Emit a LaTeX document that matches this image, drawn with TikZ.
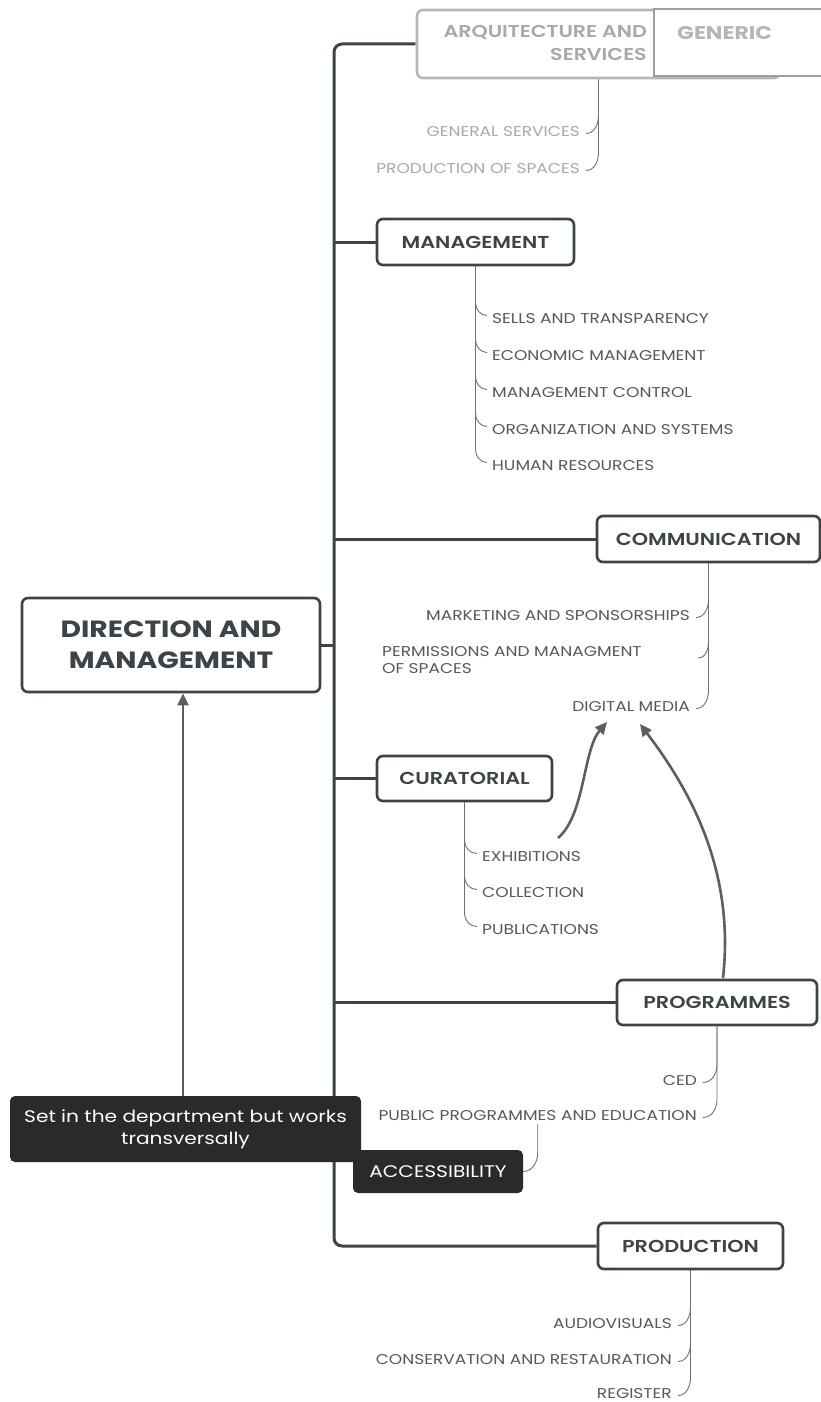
\documentclass[tikz,border=0pt]{standalone}
\usepackage{fontspec}
\setmainfont{Poppins}[FakeStretch=1.2]
\newfontfamily\semib{Poppins SemiBold}[FakeStretch=1.2]
\usetikzlibrary{arrows.meta,calc}
\definecolor{dk}{HTML}{3E4348}
\definecolor{itc}{HTML}{55595D}
\definecolor{lg}{HTML}{A9A9A9}
\definecolor{notec}{HTML}{2A2A2A}
\definecolor{subc}{HTML}{6E7276}
\pgfdeclarelayer{bg}
\pgfsetlayers{bg,main}
\begin{document}
\begin{tikzpicture}[x=1pt,y=-1pt,
  box/.style={draw=dk,line width=2.6pt,rounded corners=6pt,fill=white,text=dk,font=\semib\fontsize{17.3}{20}\selectfont,inner sep=0pt},
  item/.style={text=itc,font=\fontsize{14.2}{17}\selectfont,inner sep=0pt,yshift=-1.5pt},
  lgitem/.style={item,text=lg},
  trunk/.style={draw=dk,line width=3pt},
  sub/.style={draw=subc,line width=0.9pt},
  arr/.style={draw=dk!85,line width=2.6pt,-{Triangle[length=12pt,width=11pt]}},
  darkbox/.style={fill=notec,rounded corners=5pt,text=white,inner sep=0pt,font=\fontsize{16.8}{22}\selectfont,align=center},
  genbox/.style={draw=gray!75,line width=1.6pt,fill=white,inner sep=0pt}]
\useasboundingbox (0,0) rectangle (821,1402);
\coordinate (tr) at (334,645);
% boxes
\node[box,minimum width=298pt,minimum height=94pt,align=center,font=\bfseries\fontsize{23.5}{31}\selectfont] (root) at (171,645) {DIRECTION AND\\MANAGEMENT};
\node[box,draw=lg!85,minimum width=363pt,minimum height=68pt] (arq) at (598.5,44) {};
\node[anchor=east,align=right,text=lg,inner sep=0pt,font=\semib\fontsize{17.2}{23}\selectfont] (arqt) at (647,43) {ARQUITECTURE AND\\SERVICES};
\node[genbox,minimum width=176pt,minimum height=67pt] (gen) at (742,42.5) {};
\node[anchor=west,text=lg!85,inner sep=0pt,font=\bfseries\fontsize{18.4}{20}\selectfont] (gent) at (677,33) {GENERIC};
\node[box,minimum width=197pt,minimum height=46pt] (mgmt) at (475.5,242) {MANAGEMENT};
\node[box,minimum width=223pt,minimum height=46pt] (comm) at (708.5,539) {COMMUNICATION};
\node[box,minimum width=175pt,minimum height=45pt] (cur) at (464.5,778.5) {CURATORIAL};
\node[box,minimum width=200pt,minimum height=45pt] (prog) at (717,1002.5) {PROGRAMMES};
\node[box,minimum width=185pt,minimum height=46pt] (prod) at (690.5,1246) {PRODUCTION};
\node[darkbox,minimum width=351pt,minimum height=66pt] (note) at (185.5,1129) {Set in the department but works\\transversally};
\node[darkbox,minimum width=170pt,minimum height=43pt] (acc) at (438,1171.5) {ACCESSIBILITY};
% items
\node[lgitem,anchor=east] (gs) at (580,130) {GENERAL SERVICES};
\node[lgitem,anchor=east] (ps) at (580,167) {PRODUCTION OF SPACES};
\node[item,anchor=west] (m1) at (492,317) {SELLS AND TRANSPARENCY};
\node[item,anchor=west] (m2) at (492,354) {ECONOMIC MANAGEMENT};
\node[item,anchor=west] (m3) at (492,391) {MANAGEMENT CONTROL};
\node[item,anchor=west] (m4) at (492,428) {ORGANIZATION AND SYSTEMS};
\node[item,anchor=west] (m5) at (492,464) {HUMAN RESOURCES};
\node[item,anchor=east] (mk) at (690,614) {MARKETING AND SPONSORSHIPS};
\node[item,anchor=west,align=left,font=\fontsize{14.2}{17}\selectfont] (perm) at (382,659) {PERMISSIONS AND MANAGMENT\\OF SPACES};
\coordinate (permh) at (698,658);
\node[item,anchor=east] (dm) at (690,705) {DIGITAL MEDIA};
\node[item,anchor=west] (c1) at (482,855) {EXHIBITIONS};
\node[item,anchor=west] (c2) at (482,891) {COLLECTION};
\node[item,anchor=west] (c3) at (482,928) {PUBLICATIONS};
\node[item,anchor=east] (ced) at (697,1079) {CED};
\node[item,anchor=east] (ppe) at (697,1114) {PUBLIC PROGRAMMES AND EDUCATION};
\node[item,anchor=east] (p1) at (672,1322) {AUDIOVISUALS};
\node[item,anchor=east] (p2) at (672,1358) {CONSERVATION AND RESTAURATION};
\node[item,anchor=east] (p3) at (672,1392) {REGISTER};
\coordinate (a1s) at (558,838);
\coordinate (a1e) at (607,722);
\coordinate (a2s) at (723,978);
\coordinate (a2e) at (640,724);
\begin{pgfonlayer}{bg}
\fill[white] (0,0) rectangle (821,1402);
\draw[trunk,rounded corners=8pt] (arq.west) -| (tr) |- (prod.west);
\draw[trunk] (root.east) -- (tr);
\foreach \n in {mgmt,comm,cur,prog}{\draw[trunk] (tr |- \n.west) -- (\n.west);}
% sub branches right side
\foreach \p/\i in {arq/gs,arq/ps,comm/mk,comm/dm,prog/ced,prog/ppe,prod/p1,prod/p2,prod/p3}{
  \draw[sub] (\p.south) -- ($(\p.south |- \i.east)+(0,-16)$) to[out=-90,in=0] ($(\i.east)+(6,2)$);}
\draw[sub] (comm.south) -- ($(comm.south |- permh)+(0,-16)$) to[out=-90,in=0] (permh);
% left side
\foreach \p/\i in {mgmt/m1,mgmt/m2,mgmt/m3,mgmt/m4,mgmt/m5,cur/c1,cur/c2,cur/c3}{
  \draw[sub] (\p.south) -- ($(\p.south |- \i.west)+(0,-16)$) to[out=-90,in=180] ($(\i.west)+(-5,-3)$);}
\draw[sub] ($(ppe.south)+(0,3)$) -- ($(ppe.south)+(0,32)$) to[out=-90,in=0] (acc.east);
\end{pgfonlayer}
\draw[arr] ($(note.north)+(-2.5,0)$) -- ($(root.south)+(12,0)$);
\draw[arr] (a1s) .. controls (585,815) and (583,750) .. (a1e);
\draw[arr] (a2s) .. controls (735,870) and (690,790) .. (a2e);
\end{tikzpicture}
\end{document}
